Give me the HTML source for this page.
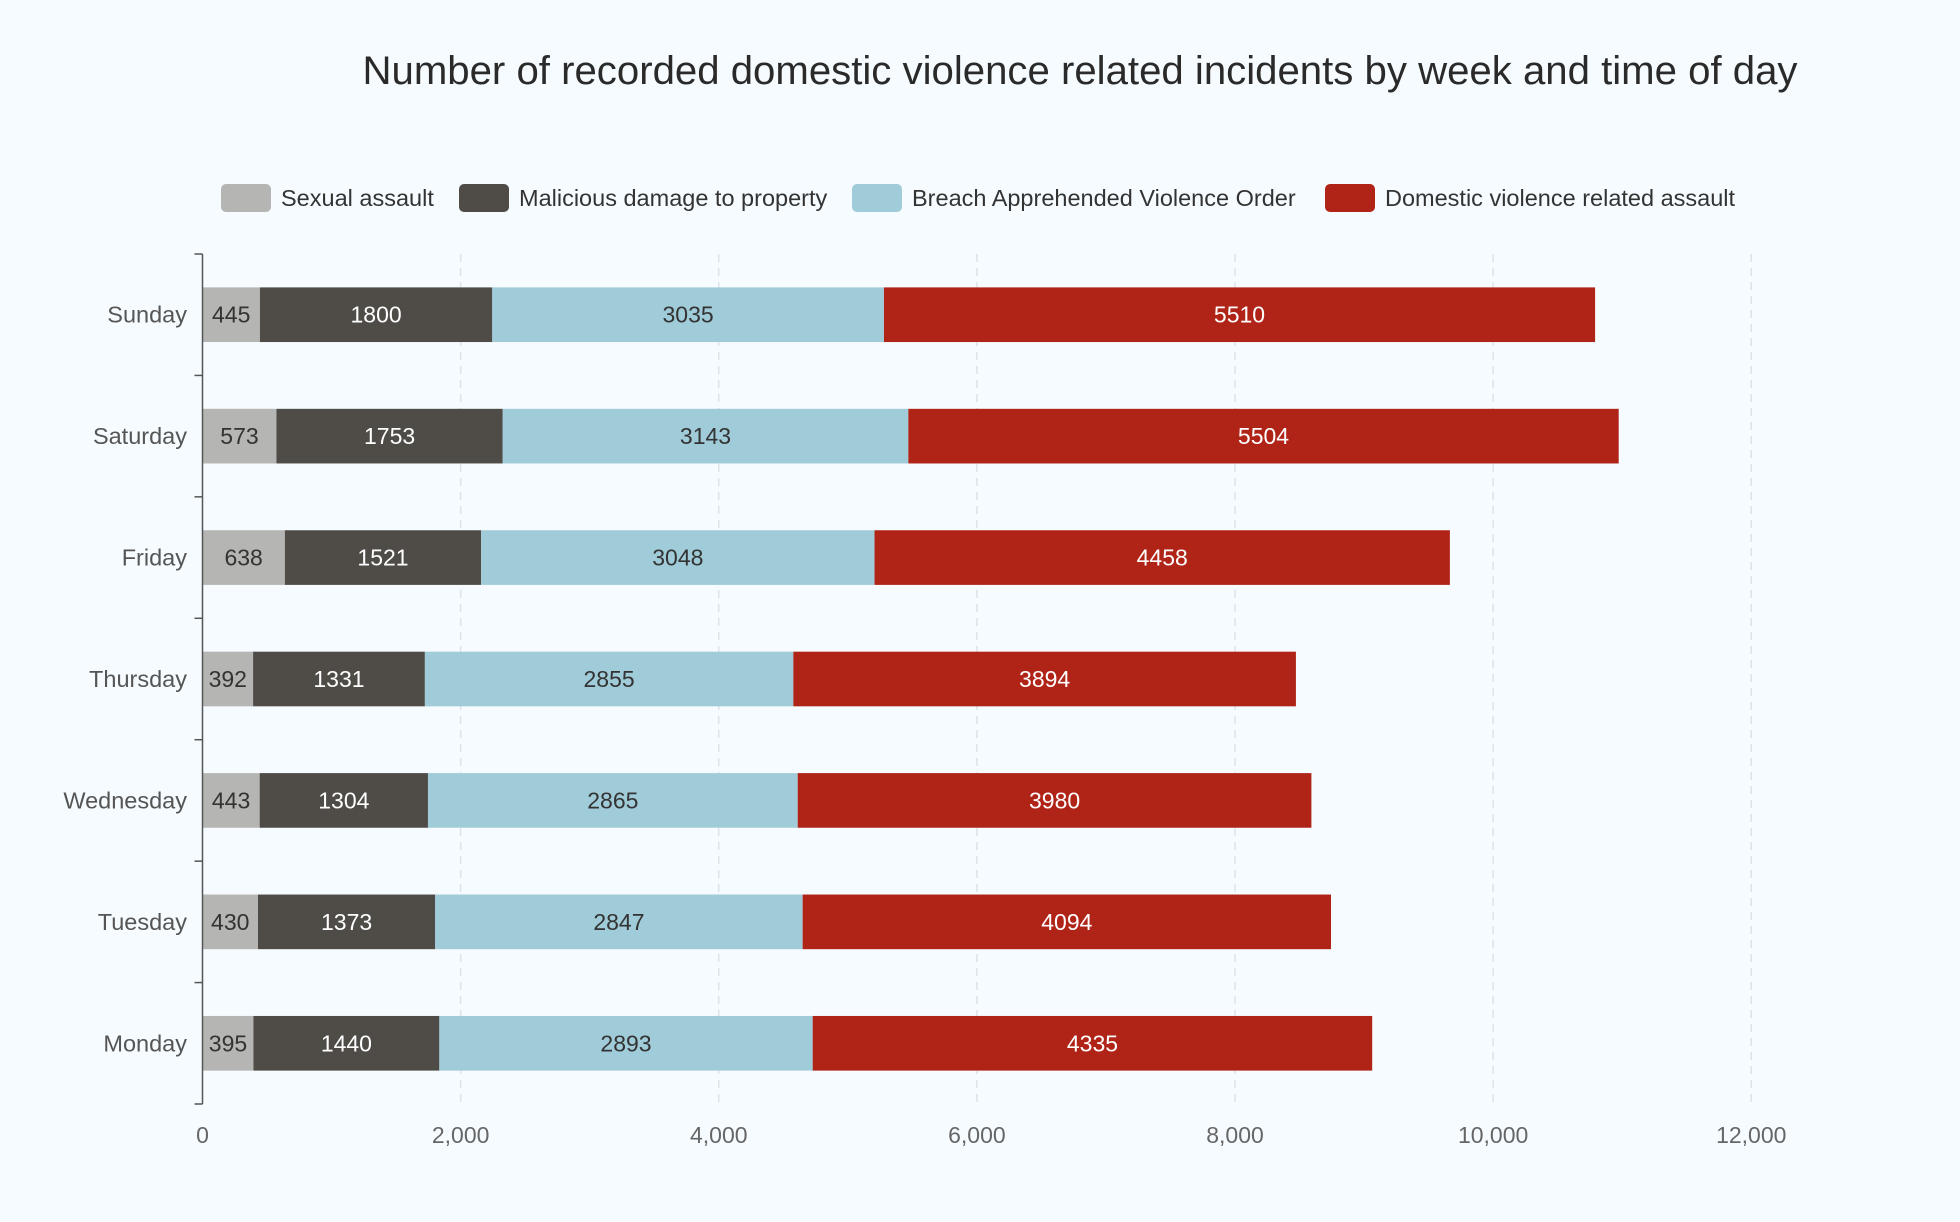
<!DOCTYPE html>
<html><head><meta charset="utf-8"><style>
html,body{margin:0;padding:0;background:#f5fbfe;}
svg{display:block;font-family:"Liberation Sans",Arial,sans-serif;}
</style></head><body>
<svg id="chart" width="1960" height="1222" viewBox="0 0 1960 1222" xmlns="http://www.w3.org/2000/svg">
<rect width="1960" height="1222" fill="#f5fbfe"/>
<text x="1080" y="84" text-anchor="middle" font-size="40" fill="#2a2a2a" textLength="1435" lengthAdjust="spacingAndGlyphs">Number of recorded domestic violence related incidents by week and time of day</text>
<g id="legend"></g>
<g id="grid"></g>
<g id="bars"></g>
<g id="axes"></g>
</svg>
<script>
const categories = ["Sunday","Saturday","Friday","Thursday","Wednesday","Tuesday","Monday"];
const sexualAssault = [445,573,638,392,443,430,395];
const maliciousDamage = [1800,1753,1521,1331,1304,1373,1440];
const breachAVO = [3035,3143,3048,2855,2865,2847,2893];
const dvAssault = [5510,5504,4458,3894,3980,4094,4335];
const seriesNames = ["Sexual assault","Malicious damage to property","Breach Apprehended Violence Order","Domestic violence related assault"];
const xTicks = [0,2000,4000,6000,8000,10000,12000];
const xTickLabels = ["0","2,000","4,000","6,000","8,000","10,000","12,000"];

const NS="http://www.w3.org/2000/svg";
const colors=["#b5b5b3","#4f4c48","#a0cbd9","#b02418"];
const textColors=["#333","#fff","#333","#fff"];
const x0=202.5, x1=1751.25, xMax=12000, yTop=254, yBot=1104;
const band=(yBot-yTop)/categories.length;
const xs=v=>x0+(x1-x0)*v/xMax;
const yc=i=>yTop+band*(i+0.5);
function mk(tag,attrs,parent){const e=document.createElementNS(NS,tag);for(const k in attrs)e.setAttribute(k,attrs[k]);parent.appendChild(e);return e;}
const gGrid=document.getElementById('grid'),gBars=document.getElementById('bars'),gAxes=document.getElementById('axes'),gLeg=document.getElementById('legend');

xTicks.forEach((t,i)=>{
  if(t>0){const l=mk('line',{x1:xs(t),x2:xs(t),y1:yTop,y2:yBot,stroke:'#dde3e8','stroke-width':1.5,'stroke-dasharray':'8,6'},gGrid);
  
  }
  const tx=mk('text',{x:xs(t),y:1143,'text-anchor':'middle','font-size':23,fill:'#666'},gAxes);
  tx.textContent=xTickLabels[i];
  
  
});

const series=[sexualAssault,maliciousDamage,breachAVO,dvAssault];
const bh=band*0.45;
categories.forEach((c,i)=>{
  let acc=0;
  series.forEach((s,k)=>{
    const v=s[i];
    const r=mk('rect',{x:xs(acc),y:yc(i)-bh/2,width:xs(acc+v)-xs(acc),height:bh,fill:colors[k]},gBars);
    
    
    const t=mk('text',{x:(xs(acc)+xs(acc+v))/2,y:yc(i)+8,'text-anchor':'middle','font-size':23,fill:textColors[k]},gBars);
    t.textContent=v;
    
    
    acc+=v;
  });
  const lab=mk('text',{x:187,y:yc(i)+8,'text-anchor':'end','font-size':23.5,fill:'#555'},gAxes);
  lab.textContent=c;
  
  
});
const ax=mk('line',{x1:x0,x2:x0,y1:yTop,y2:yBot,stroke:'#555','stroke-width':1.5},gAxes);


for(let i=0;i<=categories.length;i++){
  const tk=mk('line',{x1:x0-8,x2:x0,y1:yTop+band*i,y2:yTop+band*i,stroke:'#555','stroke-width':1.5},gAxes);
  
  
}
const legX=[221,459,852,1325];
seriesNames.forEach((n,k)=>{
  const g=mk('g',{},gLeg);
  
  
  mk('rect',{x:legX[k],y:184,width:50,height:28,rx:5,fill:colors[k]},g);
  const t=mk('text',{x:legX[k]+60,y:206,'font-size':23.5,fill:'#333'},g);
  t.textContent=n;
});
</script>
</body></html>
